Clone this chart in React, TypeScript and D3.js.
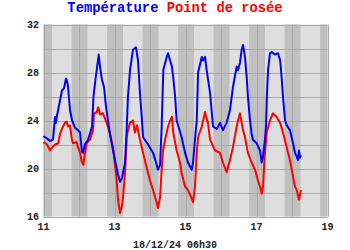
import React from "react";
import * as d3 from "d3";

// hours since 11/12 00:00
const tempHours = [0,2.4,4.4,6.4,7.8,8.4,9.1,11.2,12.5,13.9,15.2,15.9,16.6,17.9,19.3,21.3,23.3,24.7,26,26.7,28,30.1,32.8,33.8,35.2,36.2,37.3,38.2,39.5,40.9,42.3,43.6,45,47,49,50.4,51.7,53.1,55.1,56.3,57.1,58.5,60.5,62.5,63.9,65.2,66.4,67.3,70.7,74.1,76.1,77.4,78.8,79.9,81,83.3,84.2,85.6,86.8,87.7,89,90,93.4,95.7,97.7,100.2,101.1,102.4,103.6,104.5,107,107.8,109.2,110.3,112.6,114.6,117.1,119.3,121.3,123.8,126.1,128.1,130.6,131.5,132.8,134,134.9,136.2,137.4,138.2,139.6,140.7,141.6,144.1,146.4,147.5,148.4,149.7,150.4,151.1,151.8,153.1,154.3,156.5,158.6,160,161,161.9,163.3,164.4,166.6,168.7,170,171.2,172,172.7,173.4,174.1];
const tempValues = [22.7,22.5,22.3,22.4,24.3,23.8,24.4,25.7,26.5,26.7,27.5,27.3,26.8,24.9,24.0,23.4,23.2,23.0,21.4,21.3,22.0,22.4,23.5,26.0,27.5,28.4,29.5,28.5,27.4,26.8,25.1,24.0,22.8,21.5,20.3,19.5,18.9,19.2,20.5,23.5,26.0,28.2,29.9,30.1,29.0,26.3,24.3,22.6,22.0,21.3,20.5,19.9,20.3,23.5,28.2,29.3,29.6,29.0,28.5,27.6,26.0,24.0,22.6,21.3,20.5,19.9,20.5,22.4,24.0,28.0,29.3,29.0,29.3,28.2,26.3,23.5,23.3,23.8,23.2,23.8,24.9,26.8,28.5,28.2,28.8,29.9,30.3,29.3,27.6,26.0,24.0,22.9,22.4,22.1,21.5,20.5,21.0,22.4,23.5,26.3,28.2,29.6,29.7,29.5,29.6,29.0,27.6,26.0,24.0,23.6,23.2,22.1,21.3,21.0,20.7,21.5,20.9,21.1];

const dewHours = [0,2.4,4.4,5.5,7.8,10,11.2,13.2,14.5,15.7,16.6,17.9,19.1,19.9,22.4,23.3,24.7,25.8,26.9,28.1,29.2,31.4,33.5,34.1,36,37,38.2,40.2,42.7,45,47,49.5,50.4,51.7,52.9,53.7,55.1,56.3,57.1,58.5,60.5,61.8,63.2,65.2,67.3,69.7,72,74.1,76.6,77.4,78.8,79.9,80.8,82.2,84.2,85.6,86.8,87.7,90,92.3,93.4,95.7,97.7,100.2,101.1,102.4,103.6,104.5,107,109.2,110.2,111.2,112.6,116,119.3,121.3,123.8,126.1,128.1,130.6,131.5,132.8,134.9,136.2,138.2,140.7,143,145,146.4,147.5,148.4,149.7,150.9,153.1,155.1,157.6,160,161.9,164.4,166.6,168.7,170,171.2,172.7,174.1];
const dewValues = [22.2,22.0,21.5,21.7,22.0,22.1,22.9,23.5,23.8,23.9,23.5,23.6,22.5,22.1,22.2,21.8,21.3,20.6,20.3,21.3,22.1,22.4,23.2,24.6,24.7,25.1,24.5,24.6,23.8,22.9,21.8,19.0,17.4,16.3,16.8,17.5,19.6,22.6,23.2,23.8,24.0,23.0,23.6,22.4,21.3,20.1,19.0,18.2,17.1,16.7,17.6,19.9,21.5,22.4,23.5,24.0,24.3,23.0,21.5,20.5,19.6,18.5,18.2,17.5,17.2,18.5,21.3,22.6,23.5,24.7,24.2,23.8,22.4,21.5,21.3,20.5,19.7,20.7,21.8,23.5,24.0,24.6,23.2,22.6,21.3,20.5,19.9,19.0,18.5,17.9,18.5,21.3,23.0,24.0,24.6,24.3,23.8,23.0,21.8,20.7,19.3,18.5,18.2,17.4,18.2];

const xTickDays = [11, 13, 15, 17, 19];
const dayCount = 8;
const yTicks = [16, 20, 24, 28, 32];
const yGrid = [16, 18, 20, 22, 24, 26, 28, 30, 32];
const nightStart = -5; // hours relative to midnight
const nightEnd = 5.75;
const titleParts = [
  { text: "Température", color: "#0000ff" },
  { text: " ", color: "#000" },
  { text: "Point de rosée", color: "#ff0000" },
];
const footer = "18/12/24 06h30";

export default function App() {
  const W = 350, H = 250;
  const x = d3.scaleLinear().domain([0, dayCount * 24]).range([43.5, 327.5]);
  const y = d3.scaleLinear().domain([16, 32]).range([216.5, 24.5]);
  const line = d3
    .line<number>()
    .x((_, i) => 0)
    .y(() => 0);
  const mk = (hs: number[], vs: number[]) =>
    d3
      .line<number>()
      .x((h) => x(h))
      .y((_, i) => y(vs[i]))(hs) || "";
  void line;
  const x0 = x(0), x1 = x(dayCount * 24);
  const nights: [number, number][] = [];
  for (let d = 0; d <= dayCount; d++) {
    const a = Math.max(x0, x(d * 24 + nightStart));
    const b = Math.min(x1, x(d * 24 + nightEnd));
    if (b > a) nights.push([a, b]);
  }
  const font = "'Liberation Mono', 'DejaVu Sans Mono', monospace";
  return (
    <svg
      width={W}
      height={H}
      style={{ position: "absolute", left: 0, top: 0, background: "#fff" }}
    >
      <rect x={x0} y={y(32)} width={x1 - x0} height={y(16) - y(32)} fill="#dedede" />
      {nights.map(([a, b], i) => (
        <rect key={i} x={a} y={y(32)} width={b - a} height={y(16) - y(32)} fill="#c0c0c0" />
      ))}
      {yGrid.map((v) => (
        <line key={v} x1={x0} x2={x1} y1={Math.round(y(v)) + 0.5} y2={Math.round(y(v)) + 0.5} stroke="#a8a8a8" strokeWidth={1} />
      ))}
      {d3.range(0, dayCount + 1).map((d) => (
        <line key={d} x1={Math.round(x(d * 24)) + 0.5} x2={Math.round(x(d * 24)) + 0.5} y1={y(32)} y2={y(16)} stroke="#a8a8a8" strokeWidth={1} />
      ))}
      <path d={mk(dewHours, dewValues)} fill="none" stroke="#ff0000" strokeWidth={2} strokeLinejoin="round" />
      <path d={mk(tempHours, tempValues)} fill="none" stroke="#0000ff" strokeWidth={2} strokeLinejoin="round" />
      {yTicks.map((v) => (
        <text key={v} x={39} y={y(v) + 3.5} textAnchor="end" fontFamily={font} fontWeight="bold" fontSize={10} fill="#222">
          {v}
        </text>
      ))}
      {xTickDays.map((d) => (
        <text key={d} x={x((d - 11) * 24)} y={230} textAnchor="middle" fontFamily={font} fontWeight="bold" fontSize={10} fill="#222">
          {d}
        </text>
      ))}
      <text x={175} y={248} textAnchor="middle" fontFamily={font} fontWeight="bold" fontSize={10} fill="#222">
        {footer}
      </text>
      <text x={175} y={12} textAnchor="middle" fontFamily={font} fontWeight="bold" fontSize={13.8}>
        {titleParts.map((p, i) => (
          <tspan key={i} fill={p.color}>{p.text}</tspan>
        ))}
      </text>
    </svg>
  );
}
